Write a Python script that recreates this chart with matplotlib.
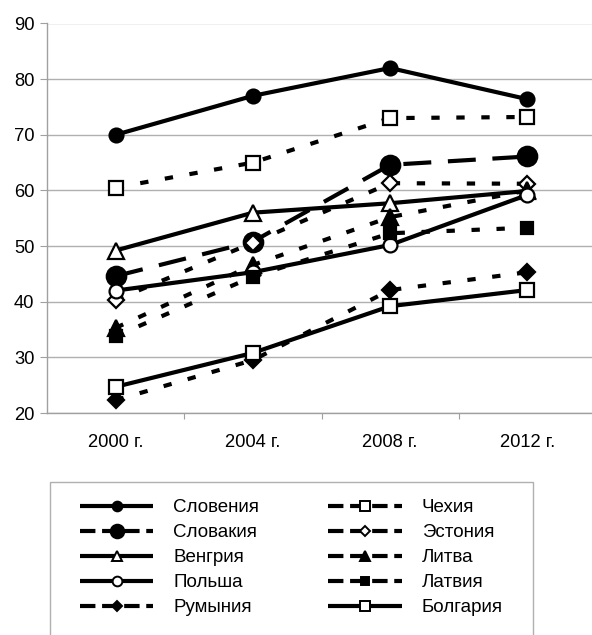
import numpy as np
import matplotlib
matplotlib.use('Agg')
import matplotlib.pyplot as plt
from matplotlib.lines import Line2D
from matplotlib.patches import Rectangle

plt.rcParams['font.family'] = ['Liberation Sans', 'DejaVu Sans']

years = ['2000 г.', '2004 г.', '2008 г.', '2012 г.']

# данные по странам (порядок рядов как в исходной диаграмме)
slovenia = [70, 77, 82, 76.4]
czech = [60.5, 65, 73, 73.2]
slovakia = [44.6, 50.8, 64.6, 66.1]
estonia = [40.3, 50.6, 61.3, 61.2]
hungary = [49.2, 56, 57.7, 59.9]
lithuania = [35.3, 46.6, 55.2, 60]
poland = [42, 45.3, 50.2, 59.2]
latvia = [33.8, 44.5, 52.3, 53.3]
romania = [22.3, 29.5, 42.1, 45.3]
bulgaria = [24.7, 30.8, 39.2, 42.1]

solid = '-'
long_dash = (0, (6.7, 4))
short_dash = (0, (2, 4))

# имя, значения, стиль линии, маркер, размер маркера, заливка
series = [
    ('Словения', slovenia, solid, 'o', 10, 'black'),
    ('Чехия', czech, short_dash, 's', 10, 'white'),
    ('Словакия', slovakia, long_dash, 'o', 14, 'black'),
    ('Эстония', estonia, short_dash, 'D', 8, 'white'),
    ('Венгрия', hungary, solid, '^', 11, 'white'),
    ('Литва', lithuania, short_dash, '^', 11, 'black'),
    ('Польша', poland, solid, 'o', 10, 'white'),
    ('Латвия', latvia, short_dash, 's', 9, 'black'),
    ('Румыния', romania, short_dash, 'D', 8, 'black'),
    ('Болгария', bulgaria, solid, 's', 10, 'white'),
]

W, H = 592, 635
fig = plt.figure(figsize=(W / 100, H / 100), dpi=100)
ax = fig.add_axes([47 / W, 1 - 413 / H, (596 - 47) / W, (413 - 23.5) / H])

x = np.arange(len(years))
handles = {}
for i, (name, vals, ls, mk, ms, fc) in enumerate(series):
    ln, = ax.plot(x, vals, color='black', lw=3, linestyle=ls, marker=mk,
                  markersize=ms, markerfacecolor=fc, markeredgecolor='black',
                  markeredgewidth=1.6, zorder=3 + i, clip_on=False,
                  dash_capstyle='butt', solid_capstyle='butt')
    handles[name] = ln

ax.set_xlim(-0.5, 3.5)
ax.set_ylim(20, 90)
ax.set_yticks(np.arange(20, 91, 10))
ax.set_xticks(x)
ax.set_xticklabels(years)
ax.set_xticks([0.5, 1.5, 2.5], minor=True)
ax.grid(axis='y', color='#b0b0b0', lw=1)
ax.set_axisbelow(True)
for s in ['top', 'right']:
    ax.spines[s].set_visible(False)
for s in ['left', 'bottom']:
    ax.spines[s].set_color('#a0a0a0')
    ax.spines[s].set_linewidth(1)
ax.tick_params(axis='y', length=5, width=0.8, color='#a0a0a0', pad=4, labelsize=13.2)
ax.tick_params(axis='x', which='major', length=0, pad=15, labelsize=13.2)
ax.tick_params(axis='x', which='minor', length=4, width=0.8, color='#a0a0a0')

# рамка легенды
fig.add_artist(Rectangle((50 / W, 0 - 0.01), (533 - 50) / W, 1 - 482 / H + 0.01,
                         transform=fig.transFigure, facecolor='white',
                         edgecolor='#b0b0b0', lw=1, clip_on=False))

order = ['Словения', 'Словакия', 'Венгрия', 'Польша', 'Румыния',
         'Чехия', 'Эстония', 'Литва', 'Латвия', 'Болгария']
leg_handles = []
for name in order:
    h = handles[name]
    leg_handles.append(Line2D([], [], color='black', lw=3, linestyle=h.get_linestyle(),
                              marker=h.get_marker(), markersize=h.get_markersize() * 0.7,
                              markerfacecolor=h.get_markerfacecolor(),
                              markeredgecolor='black', markeredgewidth=1.4,
                              dash_capstyle='butt', solid_capstyle='butt'))
fig.legend(leg_handles, order, ncol=2, loc='upper left',
           bbox_to_anchor=(80 / W, 1 - 499 / H), frameon=False,
           fontsize=13.5, handlelength=3.9, handletextpad=1.07,
           columnspacing=3.7, labelspacing=0.42, borderpad=0, borderaxespad=0)

fig.savefig('out.png', dpi=100)
